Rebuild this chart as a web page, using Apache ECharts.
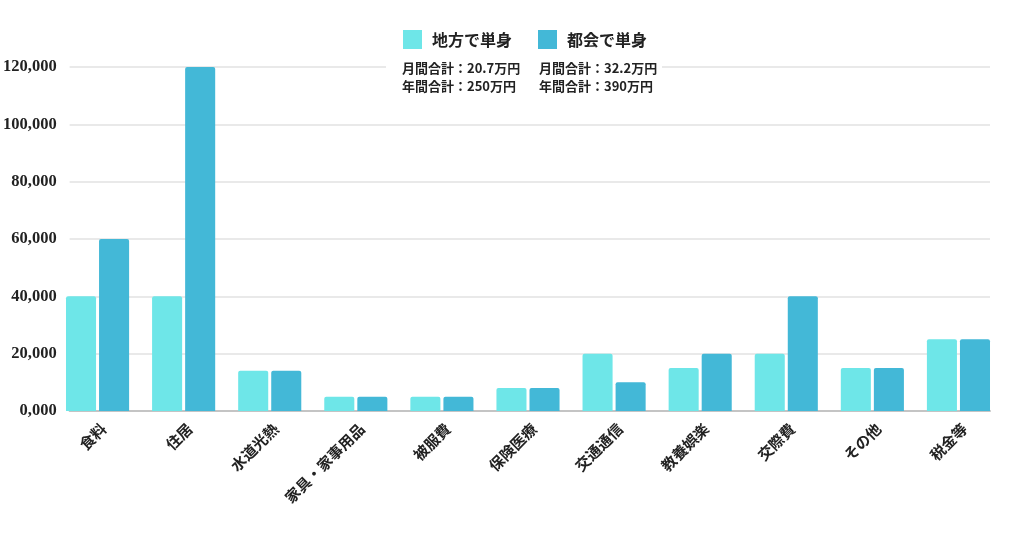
<!DOCTYPE html>
<html>
<head>
<meta charset="utf-8">
<script src="https://cdn.jsdelivr.net/npm/echarts@6/dist/echarts.min.js"></script>
<style>
html,body{margin:0;padding:0;background:#fff;}
#chart{width:1024px;height:538px;}
</style>
</head>
<body>
<div id="chart"></div>
<script>
var categories = ['食料','住居','水道光熱','家具・家事用品','被服費','保険医療','交通通信','教養娯楽','交際費','その他','税金等'];
var seriesNames = ['地方で単身','都会で単身'];
var ruralValues = [40000,40000,14000,5000,5000,8000,20000,15000,20000,15000,25000];
var urbanValues = [60000,120000,14000,5000,5000,8000,10000,20000,40000,15000,25000];
var yTickLabels = ['0,000','20,000','40,000','60,000','80,000','100,000','120,000'];
var monthlyTotals = ['20.7','32.2'];
var annualTotals = ['250','390'];

var colors = ['#6ee6e8','#43b8d7'];
var yMax = 120000, yInterval = 20000;
var jpFont = '"Noto Sans CJK JP", sans-serif';
var numFont = '"Liberation Serif", serif';

var chart = echarts.init(document.getElementById('chart'));
var summaryX = [402, 539];
var graphics = [{
  type: 'rect', z: 100, shape: {x: 386, y: 58, width: 276, height: 40},
  style: {fill: '#fff'}
}];
for (var i = 0; i < 2; i++) {
  graphics.push({
    type: 'text', z: 101, left: summaryX[i], top: 62,
    style: {text: '月間合計：' + monthlyTotals[i] + '万円', font: 'bold 13px ' + jpFont, fill: '#222'}
  });
  graphics.push({
    type: 'text', z: 101, left: summaryX[i], top: 80,
    style: {text: '年間合計：' + annualTotals[i] + '万円', font: 'bold 13px ' + jpFont, fill: '#222'}
  });
}

chart.setOption({
  animation: false,
  backgroundColor: '#fff',
  color: colors,
  legend: {
    data: seriesNames,
    left: 398, top: 25,
    itemWidth: 19, itemHeight: 19, itemGap: 26,
    icon: 'rect',
    textStyle: {fontFamily: jpFont, fontWeight: 'bold', fontSize: 16, color: '#222', padding: [0,0,0,5]}
  },
  graphic: graphics,
  grid: [
    {left: 54.5, right: 22.5, top: 67, bottom: 127},
    {left: 66, right: 34, top: 67, bottom: 127},
    {left: 60.5, right: 16.5, top: 67, bottom: 127}
  ],
  xAxis: [
    {
      type: 'category', gridIndex: 0, data: categories,
      axisLine: {show: false}, axisTick: {show: false}, axisLabel: {show: false}
    },
    {
      type: 'category', gridIndex: 1, data: categories,
      axisLine: {show: true, lineStyle: {color: '#c4c4c4', width: 2}},
      axisTick: {show: false}, axisLabel: {show: false}
    },
    {
      type: 'category', gridIndex: 2, data: categories,
      axisLine: {show: false}, axisTick: {show: false},
      axisLabel: {rotate: 45, margin: 15, interval: 0, fontFamily: jpFont, fontWeight: 'bold', fontSize: 15, color: '#222'}
    }
  ],
  yAxis: [
    {
      type: 'value', gridIndex: 0, min: 0, max: yMax, interval: yInterval,
      axisLabel: {show: false}, splitLine: {show: false}, axisLine: {show: false}, axisTick: {show: false}
    },
    {
      type: 'value', gridIndex: 1, min: 0, max: yMax, interval: yInterval,
      axisLine: {show: false}, axisTick: {show: false},
      splitLine: {lineStyle: {color: '#e2e2e2', width: 1.5}},
      axisLabel: {
        margin: 13, fontFamily: numFont, fontWeight: 'bold', fontSize: 16.5, color: '#222',
        formatter: function (v) { return yTickLabels[Math.round(v / yInterval)]; }
      }
    },
    {
      type: 'value', gridIndex: 2, min: 0, max: yMax, interval: yInterval,
      axisLabel: {show: false}, splitLine: {show: false}, axisLine: {show: false}, axisTick: {show: false}
    }
  ],
  series: [
    {
      name: seriesNames[0], type: 'bar', xAxisIndex: 0, yAxisIndex: 0,
      data: ruralValues, barGap: '10%', barCategoryGap: '26.7%', z: 3,
      itemStyle: {color: colors[0], borderRadius: [2,2,0,0]}
    },
    {
      name: seriesNames[1], type: 'bar', xAxisIndex: 0, yAxisIndex: 0,
      data: urbanValues, barGap: '10%', barCategoryGap: '26.7%', z: 3,
      itemStyle: {color: colors[1], borderRadius: [2,2,0,0]}
    }
  ]
});
</script>
</body>
</html>
